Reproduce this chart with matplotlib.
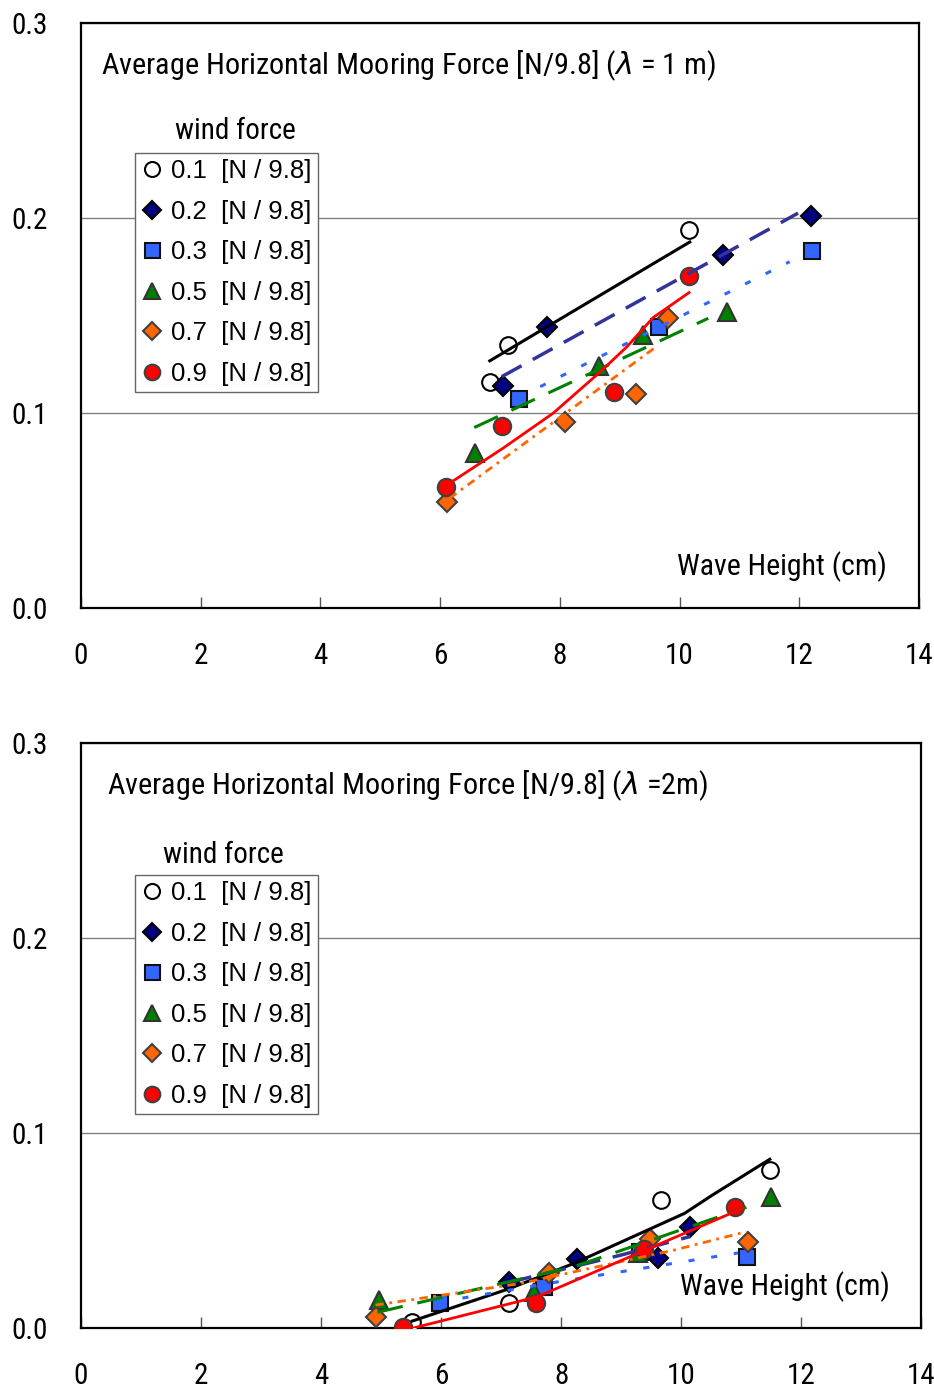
import matplotlib
matplotlib.use("Agg")
from matplotlib import pyplot as plt
from matplotlib.lines import Line2D

plt.rcParams['font.family'] = ['Roboto Condensed', 'Liberation Sans',
                               'DejaVu Sans']

winds = ["0.1", "0.2", "0.3", "0.5", "0.7", "0.9"]

# lambda = 1 m : wave height (cm) and mooring force [N/9.8]
h1 = [
    [6.83, 7.13, 10.15],
    [7.05, 7.78, 10.73, 12.20],
    [7.31, 9.66, 12.22],
    [6.58, 8.65, 9.39, 10.79],
    [6.11, 8.09, 9.28, 9.81],
    [6.10, 7.03, 8.90, 10.15],
]
f1 = [
    [0.116, 0.135, 0.194],
    [0.114, 0.144, 0.181, 0.201],
    [0.107, 0.144, 0.183],
    [0.0795, 0.124, 0.140, 0.152],
    [0.0546, 0.0956, 0.1097, 0.1486],
    [0.062, 0.0936, 0.111, 0.1705],
]
trend_h1 = [
    [6.83, 10.17],
    [7.03, 11.98],
    [7.33, 11.84],
    [6.57, 10.48],
    [6.16, 9.61],
    [6.16, 7.05, 7.89, 8.67, 9.12, 9.56, 10.16],
]
trend_f1 = [
    [0.1268, 0.1877],
    [0.1187, 0.2025],
    [0.1083, 0.1776],
    [0.0926, 0.1486],
    [0.0564, 0.134],
    [0.0641, 0.082, 0.100, 0.121, 0.134, 0.149, 0.1618],
]

# lambda = 2 m
h2 = [
    [5.52, 7.14, 9.67, 11.48],
    [7.14, 8.27, 9.62, 10.15],
    [5.98, 7.72, 9.31, 11.10],
    [4.97, 7.55, 9.28, 11.50],
    [4.91, 7.80, 9.49, 11.12],
    [5.36, 7.59, 9.38, 10.90],
]
f2 = [
    [0.0034, 0.0128, 0.0657, 0.0811],
    [0.0239, 0.0353, 0.0359, 0.0517],
    [0.0128, 0.0213, 0.0392, 0.0364],
    [0.0145, 0.0188, 0.0386, 0.0674],
    [0.0059, 0.0282, 0.0456, 0.0444],
    [0.0005, 0.0128, 0.0405, 0.062],
]
trend_h2 = [
    [5.52, 7.11, 8.22, 10.06, 10.51, 11.48],
    [7.14, 9.0, 10.15],
    [5.98, 8.06, 9.25, 10.95],
    [4.94, 8.22, 11.09],
    [4.91, 7.33, 9.89, 11.09],
    [5.52, 7.61, 9.34, 11.03],
]
trend_f2 = [
    [0.0037, 0.020, 0.0333, 0.0589, 0.0680, 0.0866],
    [0.0236, 0.0375, 0.047],
    [0.0135, 0.0244, 0.0302, 0.0386],
    [0.0082, 0.0316, 0.062],
    [0.0119, 0.023, 0.0401, 0.0495],
    [0.0, 0.0162, 0.0392, 0.0615],
]

x_ticks = [0, 2, 4, 6, 8, 10, 12, 14]
y_ticks = [0.0, 0.1, 0.2, 0.3]

markers = ['o', 'D', 's', '^', 'D', 'o']
msizes = [12, 10, 12, 13, 10, 12.5]
faces = ['white', '#000080', '#3366FF', '#008000', '#FF6600', '#FF0000']
edges = ['black', 'black', '#111111', '#333333', '#404040', '#404040']
line_colors = ['black', '#333399', '#3366FF', '#008000', '#FF6600', '#FF0000']
line_styles = ['-', (0, (6.5, 3.7)), (0, (2, 5.5)), (0, (8.5, 4.9)),
               (0, (3, 2, 1, 2)), '-']
line_widths = [2.2, 2.5, 2.2, 2.2, 2.0, 2.0]

fig = plt.figure(figsize=(9.34, 13.89), dpi=100)
ax1 = fig.add_axes([0.0867, 0.5621, 0.8972, 0.4214])
ax2 = fig.add_axes([0.0867, 0.0437, 0.8994, 0.4216])


def draw(ax, hs, fs, ths, tfs, title, tpos, wpos):
    ax.set_xlim(0, 14)
    ax.set_ylim(0, 0.3)
    ax.set_xticks(x_ticks)
    ax.set_yticks(y_ticks)
    ax.set_yticklabels(["%.1f" % v for v in y_ticks])
    ax.tick_params(axis='x', direction='in', length=8, width=1, pad=24,
                   labelsize=21, color='#555555')
    ax.tick_params(axis='y', length=0, pad=24, labelsize=21)
    ax.yaxis.grid(True, color='#808080', linewidth=1)
    ax.set_axisbelow(True)
    for s in ax.spines.values():
        s.set_linewidth(1.6)
    for i in range(6):
        ax.plot(hs[i], fs[i], linestyle='none', marker=markers[i],
                markersize=msizes[i], markerfacecolor=faces[i],
                markeredgecolor=edges[i], markeredgewidth=1.5, zorder=3)
        ax.plot(ths[i], tfs[i], color=line_colors[i], linestyle=line_styles[i],
                linewidth=line_widths[i], zorder=4)
    ax.text(tpos[0], tpos[1], title, transform=ax.transAxes, fontsize=21.8,
            va='center', ha='left')
    ax.text(wpos[0], wpos[1], "Wave Height (cm)", transform=ax.transAxes,
            fontsize=21.5, va='center', ha='right')
    ax.text(tpos[2], tpos[3], "wind force", transform=ax.transAxes,
            fontsize=21, va='center', ha='center')
    handles = [Line2D([], [], linestyle='none', marker=markers[i],
                      markersize=msizes[i] * 0.9, markerfacecolor=faces[i],
                      markeredgecolor=edges[i], markeredgewidth=1.5)
               for i in range(6)]
    labels = [w + "  [N / 9.8]" for w in winds]
    leg = ax.legend(handles, labels, loc='upper left',
                    bbox_to_anchor=(0.0644, tpos[4]), borderaxespad=0,
                    prop={'family': ['Liberation Sans', 'DejaVu Sans'],
                          'size': 18.5},
                    frameon=True, fancybox=False, framealpha=1,
                    edgecolor='#666666', handlelength=0.8, handletextpad=0.35,
                    labelspacing=0.64, borderpad=0.25)
    leg.get_frame().set_linewidth(1.0)
    leg.set_zorder(5)


draw(ax1, h1, f1, trend_h1, trend_f1,
     r"Average Horizontal Mooring Force [N/9.8] ($\lambda$ = 1 m)",
     (0.0239, 0.9265, 0.1838, 0.8155, 0.778), (0.962, 0.0706))
draw(ax2, h2, f2, trend_h2, trend_f2,
     r"Average Horizontal Mooring Force [N/9.8] ($\lambda$ =2m)",
     (0.031, 0.926, 0.169, 0.808, 0.774), (0.963, 0.0705))

fig.savefig("out.png", dpi=100)
